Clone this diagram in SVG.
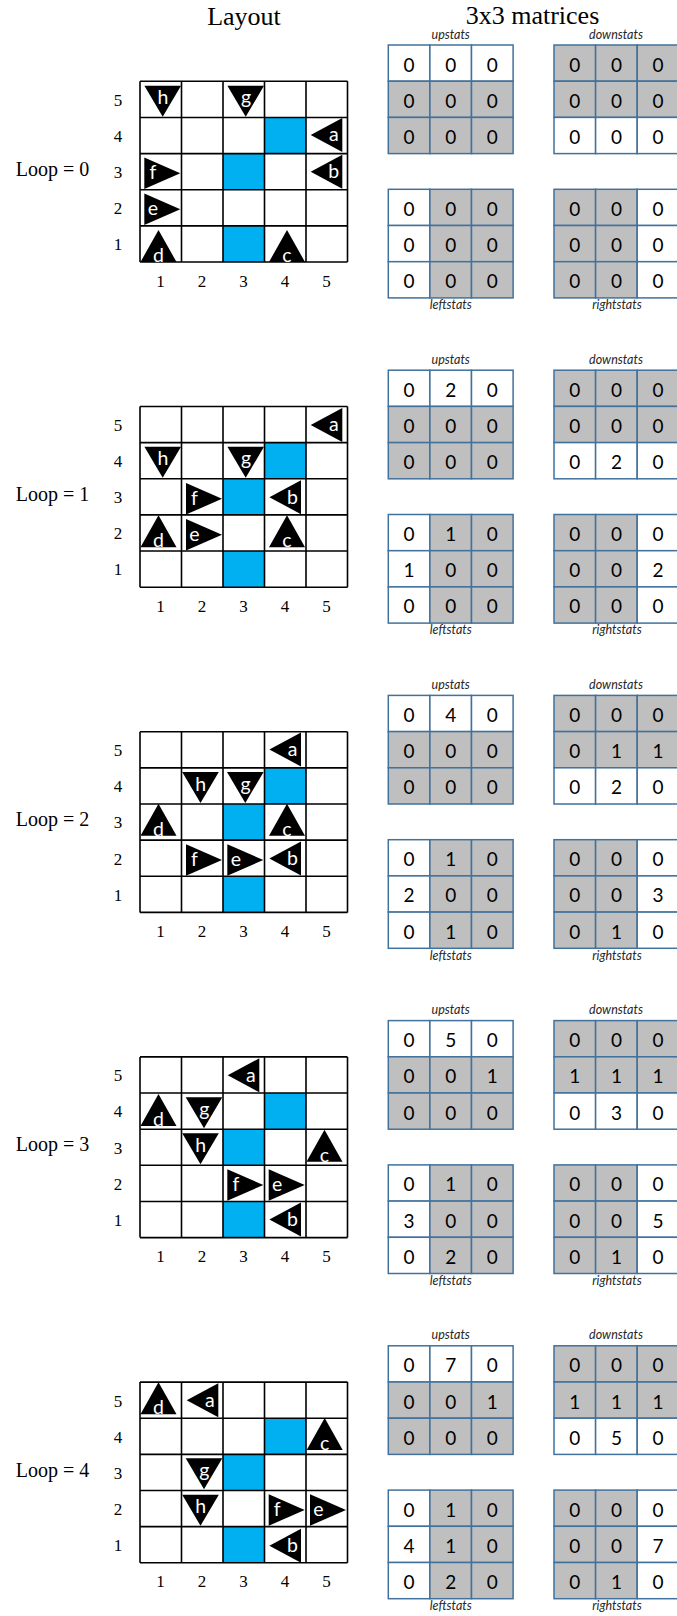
<svg xmlns="http://www.w3.org/2000/svg" xmlns:xlink="http://www.w3.org/1999/xlink" width="677" height="1616" viewBox="0 0 677 1616">
<style>
.title{font-family:"Liberation Serif","Times New Roman",serif;font-size:26px;fill:#000;text-anchor:middle}
.loop{font-family:"Liberation Serif","Times New Roman",serif;font-size:20px;fill:#000}
.ax{font-family:"Liberation Serif","Times New Roman",serif;font-size:17px;fill:#000;text-anchor:middle}
.gl{stroke:#000;stroke-width:1.6;fill:none}
.blue{fill:#00B0F0}
.tri{fill:#000}
.tl{font-family:Lato,"Open Sans",sans-serif;font-size:19.5px;fill:#fff;text-anchor:middle}
.mw{fill:#fff;stroke:#41719C;stroke-width:1.5}
.ms{fill:#BFBFBF;stroke:#41719C;stroke-width:1.5}
.num{font-family:Lato,"Open Sans",sans-serif;font-size:19px;fill:#000;text-anchor:middle}
.ml{font-family:Lato,"Open Sans",sans-serif;font-style:italic;font-size:12.5px;fill:#262626;text-anchor:middle}
</style>
<defs>
<g id="grid">
<rect class="blue" x="264.5" y="117.44" width="41.5" height="36.14"/>
<rect class="blue" x="223" y="153.58" width="41.5" height="36.14"/>
<rect class="blue" x="223" y="225.86" width="41.5" height="36.14"/>
<path class="gl" d="M140 81.3V262M181.5 81.3V262M223 81.3V262M264.5 81.3V262M306 81.3V262M347.5 81.3V262M140 81.3H347.5M140 117.44H347.5M140 153.58H347.5M140 189.72H347.5M140 225.86H347.5M140 262H347.5"/>
<text class="ax" x="118" y="105.8">5</text>
<text class="ax" x="118" y="141.9">4</text>
<text class="ax" x="118" y="178">3</text>
<text class="ax" x="118" y="214.2">2</text>
<text class="ax" x="118" y="250.3">1</text>
<text class="ax" x="160.5 202 243.5 285 326.5" y="286.5">12345</text>
</g>
<g id="mu">
<rect class="mw" x="0" y="0" width="41.6" height="36.2"/><rect class="mw" x="41.6" y="0" width="41.6" height="36.2"/><rect class="mw" x="83.2" y="0" width="41.6" height="36.2"/>
<rect class="ms" x="0" y="36.2" width="41.6" height="36.2"/><rect class="ms" x="41.6" y="36.2" width="41.6" height="36.2"/><rect class="ms" x="83.2" y="36.2" width="41.6" height="36.2"/>
<rect class="ms" x="0" y="72.4" width="41.6" height="36.2"/><rect class="ms" x="41.6" y="72.4" width="41.6" height="36.2"/><rect class="ms" x="83.2" y="72.4" width="41.6" height="36.2"/>
</g>
<g id="md">
<rect class="ms" x="0" y="0" width="41.6" height="36.2"/><rect class="ms" x="41.6" y="0" width="41.6" height="36.2"/><rect class="ms" x="83.2" y="0" width="41.6" height="36.2"/>
<rect class="ms" x="0" y="36.2" width="41.6" height="36.2"/><rect class="ms" x="41.6" y="36.2" width="41.6" height="36.2"/><rect class="ms" x="83.2" y="36.2" width="41.6" height="36.2"/>
<rect class="mw" x="0" y="72.4" width="41.6" height="36.2"/><rect class="mw" x="41.6" y="72.4" width="41.6" height="36.2"/><rect class="mw" x="83.2" y="72.4" width="41.6" height="36.2"/>
</g>
<g id="mlm">
<rect class="mw" x="0" y="0" width="41.6" height="36.2"/><rect class="ms" x="41.6" y="0" width="41.6" height="36.2"/><rect class="ms" x="83.2" y="0" width="41.6" height="36.2"/>
<rect class="mw" x="0" y="36.2" width="41.6" height="36.2"/><rect class="ms" x="41.6" y="36.2" width="41.6" height="36.2"/><rect class="ms" x="83.2" y="36.2" width="41.6" height="36.2"/>
<rect class="mw" x="0" y="72.4" width="41.6" height="36.2"/><rect class="ms" x="41.6" y="72.4" width="41.6" height="36.2"/><rect class="ms" x="83.2" y="72.4" width="41.6" height="36.2"/>
</g>
<g id="mr">
<rect class="ms" x="0" y="0" width="41.6" height="36.2"/><rect class="ms" x="41.6" y="0" width="41.6" height="36.2"/><rect class="mw" x="83.2" y="0" width="41.6" height="36.2"/>
<rect class="ms" x="0" y="36.2" width="41.6" height="36.2"/><rect class="ms" x="41.6" y="36.2" width="41.6" height="36.2"/><rect class="mw" x="83.2" y="36.2" width="41.6" height="36.2"/>
<rect class="ms" x="0" y="72.4" width="41.6" height="36.2"/><rect class="ms" x="41.6" y="72.4" width="41.6" height="36.2"/><rect class="mw" x="83.2" y="72.4" width="41.6" height="36.2"/>
</g>
<g id="mats">
<use href="#mu" x="388.3" y="45"/>
<use href="#md" x="554" y="45"/>
<use href="#mlm" x="388.3" y="189.3"/>
<use href="#mr" x="554" y="189.3"/>
<text class="ml" x="450.7" y="38.6">upstats</text>
<text class="ml" x="616" y="38.6">downstats</text>
<text class="ml" x="450.7" y="309.3">leftstats</text>
<text class="ml" x="617" y="309.3">rightstats</text>
</g>
<polygon id="td" class="tri" points="-18.3,0 18.3,0 0,31"/>
<polygon id="tu" class="tri" points="0,-32 -18,0 18,0"/>
<polygon id="tr" class="tri" points="0,-15.8 0,15.8 36,0"/>
<polygon id="tl" class="tri" points="0,-17 0,17 -31.6,0"/>
</defs>
<rect width="677" height="1616" fill="#fff"/>
<text class="title" x="244" y="25">Layout</text>
<text class="title" x="532.5" y="24">3x3 matrices</text>

<g id="loop-0">
<use href="#grid"/>
<text class="loop" x="15.7" y="175.7">Loop = 0</text>
<g id="loop-0-matrices">
<use href="#mats"/>
<text class="num" x="409.1 450.7 492.3" y="71.6">000</text>
<text class="num" x="409.1 450.7 492.3" y="107.8">000</text>
<text class="num" x="409.1 450.7 492.3" y="144">000</text>
<text class="num" x="574.8 616.4 658" y="71.6">000</text>
<text class="num" x="574.8 616.4 658" y="107.8">000</text>
<text class="num" x="574.8 616.4 658" y="144">000</text>
<text class="num" x="409.1 450.7 492.3" y="215.9">000</text>
<text class="num" x="409.1 450.7 492.3" y="252.1">000</text>
<text class="num" x="409.1 450.7 492.3" y="288.3">000</text>
<text class="num" x="574.8 616.4 658" y="215.9">000</text>
<text class="num" x="574.8 616.4 658" y="252.1">000</text>
<text class="num" x="574.8 616.4 658" y="288.3">000</text>
</g>
<g id="l0-h"><use href="#td" x="162.7" y="85.7"/><text class="tl" x="163" y="104.2">h</text></g>
<g id="l0-g"><use href="#td" x="245.7" y="85.7"/><text class="tl" x="246" y="104.2">g</text></g>
<g id="l0-a"><use href="#tl" x="342.3" y="135"/><text class="tl" x="333.8" y="141.3">a</text></g>
<g id="l0-b"><use href="#tl" x="342.3" y="171.8"/><text class="tl" x="333.8" y="178.1">b</text></g>
<g id="l0-f"><use href="#tr" x="144.3" y="173.2"/><text class="tl" x="152.8" y="179">f</text></g>
<g id="l0-e"><use href="#tr" x="144.3" y="209.2"/><text class="tl" x="152.8" y="215">e</text></g>
<g id="l0-d"><use href="#tu" x="158.5" y="262"/><text class="tl" x="158.5" y="262">d</text></g>
<g id="l0-c"><use href="#tu" x="287" y="262"/><text class="tl" x="287" y="262">c</text></g>
</g>

<g id="loop-1">
<use href="#grid" y="325.2"/>
<text class="loop" x="15.7" y="500.9">Loop = 1</text>
<g id="loop-1-matrices" transform="translate(0,325.2)">
<use href="#mats"/>
<text class="num" x="409.1 450.7 492.3" y="71.6">020</text>
<text class="num" x="409.1 450.7 492.3" y="107.8">000</text>
<text class="num" x="409.1 450.7 492.3" y="144">000</text>
<text class="num" x="574.8 616.4 658" y="71.6">000</text>
<text class="num" x="574.8 616.4 658" y="107.8">000</text>
<text class="num" x="574.8 616.4 658" y="144">020</text>
<text class="num" x="409.1 450.7 492.3" y="215.9">010</text>
<text class="num" x="409.1 450.7 492.3" y="252.1">100</text>
<text class="num" x="409.1 450.7 492.3" y="288.3">000</text>
<text class="num" x="574.8 616.4 658" y="215.9">000</text>
<text class="num" x="574.8 616.4 658" y="252.1">002</text>
<text class="num" x="574.8 616.4 658" y="288.3">000</text>
</g>
<g id="l1-a"><use href="#tl" x="342.3" y="425"/><text class="tl" x="333.8" y="431.3">a</text></g>
<g id="l1-h"><use href="#td" x="162.7" y="446.7"/><text class="tl" x="163" y="465.2">h</text></g>
<g id="l1-g"><use href="#td" x="245.7" y="446.7"/><text class="tl" x="246" y="465.2">g</text></g>
<g id="l1-f"><use href="#tr" x="186" y="498.8"/><text class="tl" x="194.5" y="504.6">f</text></g>
<g id="l1-b"><use href="#tl" x="301" y="497.2"/><text class="tl" x="292.5" y="503.5">b</text></g>
<g id="l1-d"><use href="#tu" x="158.5" y="547.3"/><text class="tl" x="158.5" y="547.3">d</text></g>
<g id="l1-e"><use href="#tr" x="186" y="534.8"/><text class="tl" x="194.5" y="540.6">e</text></g>
<g id="l1-c"><use href="#tu" x="287" y="547.3"/><text class="tl" x="287" y="547.3">c</text></g>
</g>

<g id="loop-2">
<use href="#grid" y="650.4"/>
<text class="loop" x="15.7" y="826.1">Loop = 2</text>
<g id="loop-2-matrices" transform="translate(0,650.4)">
<use href="#mats"/>
<text class="num" x="409.1 450.7 492.3" y="71.6">040</text>
<text class="num" x="409.1 450.7 492.3" y="107.8">000</text>
<text class="num" x="409.1 450.7 492.3" y="144">000</text>
<text class="num" x="574.8 616.4 658" y="71.6">000</text>
<text class="num" x="574.8 616.4 658" y="107.8">011</text>
<text class="num" x="574.8 616.4 658" y="144">020</text>
<text class="num" x="409.1 450.7 492.3" y="215.9">010</text>
<text class="num" x="409.1 450.7 492.3" y="252.1">200</text>
<text class="num" x="409.1 450.7 492.3" y="288.3">010</text>
<text class="num" x="574.8 616.4 658" y="215.9">000</text>
<text class="num" x="574.8 616.4 658" y="252.1">003</text>
<text class="num" x="574.8 616.4 658" y="288.3">010</text>
</g>
<g id="l2-a"><use href="#tl" x="301" y="749.5"/><text class="tl" x="292.5" y="755.8">a</text></g>
<g id="l2-h"><use href="#td" x="200.5" y="772"/><text class="tl" x="200.8" y="790.5">h</text></g>
<g id="l2-g"><use href="#td" x="245.3" y="772"/><text class="tl" x="245.6" y="790.5">g</text></g>
<g id="l2-d"><use href="#tu" x="158.5" y="835.7"/><text class="tl" x="158.5" y="835.7">d</text></g>
<g id="l2-c"><use href="#tu" x="287" y="835.7"/><text class="tl" x="287" y="835.7">c</text></g>
<g id="l2-f"><use href="#tr" x="186" y="860"/><text class="tl" x="194.5" y="865.8">f</text></g>
<g id="l2-e"><use href="#tr" x="227.3" y="860"/><text class="tl" x="235.8" y="865.8">e</text></g>
<g id="l2-b"><use href="#tl" x="301" y="858.5"/><text class="tl" x="292.5" y="864.8">b</text></g>
</g>

<g id="loop-3">
<use href="#grid" y="975.6"/>
<text class="loop" x="15.7" y="1151.3">Loop = 3</text>
<g id="loop-3-matrices" transform="translate(0,975.6)">
<use href="#mats"/>
<text class="num" x="409.1 450.7 492.3" y="71.6">050</text>
<text class="num" x="409.1 450.7 492.3" y="107.8">001</text>
<text class="num" x="409.1 450.7 492.3" y="144">000</text>
<text class="num" x="574.8 616.4 658" y="71.6">000</text>
<text class="num" x="574.8 616.4 658" y="107.8">111</text>
<text class="num" x="574.8 616.4 658" y="144">030</text>
<text class="num" x="409.1 450.7 492.3" y="215.9">010</text>
<text class="num" x="409.1 450.7 492.3" y="252.1">300</text>
<text class="num" x="409.1 450.7 492.3" y="288.3">020</text>
<text class="num" x="574.8 616.4 658" y="215.9">000</text>
<text class="num" x="574.8 616.4 658" y="252.1">005</text>
<text class="num" x="574.8 616.4 658" y="288.3">010</text>
</g>
<g id="l3-a"><use href="#tl" x="259.3" y="1075.3"/><text class="tl" x="250.8" y="1081.6">a</text></g>
<g id="l3-d"><use href="#tu" x="158.5" y="1126"/><text class="tl" x="158.5" y="1126">d</text></g>
<g id="l3-g"><use href="#td" x="204" y="1097.3"/><text class="tl" x="204.3" y="1115.8">g</text></g>
<g id="l3-h"><use href="#td" x="200.5" y="1133.3"/><text class="tl" x="200.8" y="1151.8">h</text></g>
<g id="l3-c"><use href="#tu" x="324.5" y="1161.7"/><text class="tl" x="324.5" y="1161.7">c</text></g>
<g id="l3-f"><use href="#tr" x="227.3" y="1185"/><text class="tl" x="235.8" y="1190.8">f</text></g>
<g id="l3-e"><use href="#tr" x="268.7" y="1185"/><text class="tl" x="277.2" y="1190.8">e</text></g>
<g id="l3-b"><use href="#tl" x="301" y="1219.5"/><text class="tl" x="292.5" y="1225.8">b</text></g>
</g>

<g id="loop-4">
<use href="#grid" y="1300.8"/>
<text class="loop" x="15.7" y="1476.5">Loop = 4</text>
<g id="loop-4-matrices" transform="translate(0,1300.8)">
<use href="#mats"/>
<text class="num" x="409.1 450.7 492.3" y="71.6">070</text>
<text class="num" x="409.1 450.7 492.3" y="107.8">001</text>
<text class="num" x="409.1 450.7 492.3" y="144">000</text>
<text class="num" x="574.8 616.4 658" y="71.6">000</text>
<text class="num" x="574.8 616.4 658" y="107.8">111</text>
<text class="num" x="574.8 616.4 658" y="144">050</text>
<text class="num" x="409.1 450.7 492.3" y="215.9">010</text>
<text class="num" x="409.1 450.7 492.3" y="252.1">410</text>
<text class="num" x="409.1 450.7 492.3" y="288.3">020</text>
<text class="num" x="574.8 616.4 658" y="215.9">000</text>
<text class="num" x="574.8 616.4 658" y="252.1">007</text>
<text class="num" x="574.8 616.4 658" y="288.3">010</text>
</g>
<g id="l4-d"><use href="#tu" x="158.5" y="1414.3"/><text class="tl" x="158.5" y="1414.3">d</text></g>
<g id="l4-a"><use href="#tl" x="218.3" y="1400.2"/><text class="tl" x="209.8" y="1406.5">a</text></g>
<g id="l4-c"><use href="#tu" x="324.7" y="1450"/><text class="tl" x="324.7" y="1450">c</text></g>
<g id="l4-g"><use href="#td" x="204" y="1458.3"/><text class="tl" x="204.3" y="1476.8">g</text></g>
<g id="l4-h"><use href="#td" x="200.5" y="1494.7"/><text class="tl" x="200.8" y="1513.2">h</text></g>
<g id="l4-f"><use href="#tr" x="268.7" y="1510"/><text class="tl" x="277.2" y="1515.8">f</text></g>
<g id="l4-e"><use href="#tr" x="310" y="1510"/><text class="tl" x="318.5" y="1515.8">e</text></g>
<g id="l4-b"><use href="#tl" x="301" y="1545.7"/><text class="tl" x="292.5" y="1552">b</text></g>
</g>
</svg>
